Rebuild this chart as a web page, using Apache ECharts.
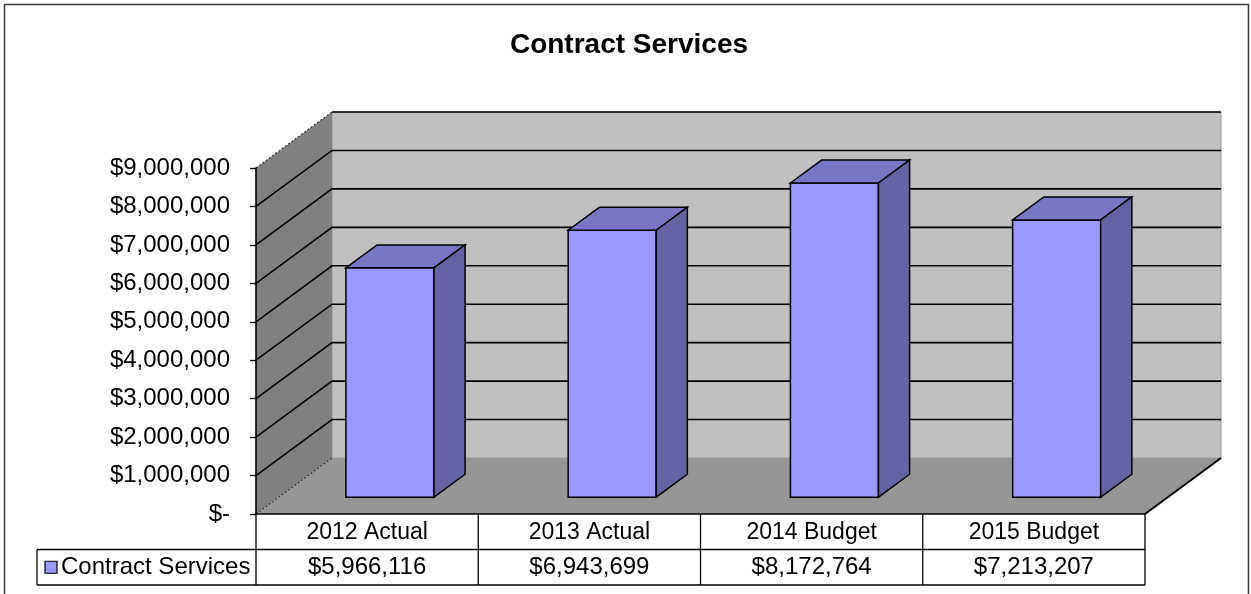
<!DOCTYPE html>
<html>
<head>
<meta charset="utf-8">
<title>Contract Services</title>
<script src="https://cdn.jsdelivr.net/npm/echarts@6/dist/echarts.min.js"></script>
<style>
  html, body { margin: 0; padding: 0; background: #ffffff; }
  #chart { width: 1251px; height: 594px; }
</style>
</head>
<body>
<div id="chart"></div>
<script>
// ---- data ----
const categories = ['2012 Actual', '2013 Actual', '2014 Budget', '2015 Budget'];
const seriesName = 'Contract Services';
const contractServices = [5966116, 6943699, 8172764, 7213207];
const yTicks = [0, 1000000, 2000000, 3000000, 4000000, 5000000, 6000000, 7000000, 8000000, 9000000];

// ---- look ----
const FONT = '"Liberation Sans", Arial, Helvetica, sans-serif';
const DEPTH = [76, -56];      // screen offset from the front plane to the back wall
const BAR_Z = [0.30, 0.71];   // depth span of the columns (0 = front, 1 = back wall)
const BAR_WIDTH = 0.396;      // column width as a share of the category band
const ROW_H = 35.5;           // data table row height
const LEGEND_CELL_W = 219;    // width of the series-name cell of the table

function money(v) {
  return v === 0 ? '$-' : '$' + v.toLocaleString('en-US');
}
function shift(p, z) {
  return [p[0] + DEPTH[0] * z, p[1] + DEPTH[1] * z];
}
function seg(a, b, style) {
  return { type: 'line', shape: { x1: a[0], y1: a[1], x2: b[0], y2: b[1] }, style: style };
}

// Back wall, side wall, floor and the gridlines that run across them.
function renderWalls(params, api) {
  const cs = params.coordSys;
  const x0 = cs.x, x1 = cs.x + cs.width;
  const yLo = api.coord([0, yTicks[0]])[1];
  const yHi = api.coord([0, yTicks[yTicks.length - 1]])[1];
  const fl = [x0, yLo], fr = [x1, yLo], ftl = [x0, yHi], ftr = [x1, yHi];
  const bl = shift(fl, 1), br = shift(fr, 1), btl = shift(ftl, 1), btr = shift(ftr, 1);
  const children = [
    { type: 'polygon', shape: { points: [btl, btr, br, bl] }, style: { fill: '#c0c0c0', stroke: '#9a9a9a', lineWidth: 1 } },
    { type: 'polygon', shape: { points: [ftl, btl, bl, fl] }, style: { fill: '#808080' } },
    { type: 'polygon', shape: { points: [fl, bl, br, fr] }, style: { fill: '#969696' } }
  ];
  yTicks.slice(1, -1).forEach(function (v) {
    const y = api.coord([0, v])[1];
    const a = [x0, y], b = shift(a, 1), c = shift([x1, y], 1);
    children.push({ type: 'polyline', shape: { points: [a, b, c] }, style: { stroke: '#000', lineWidth: 1.6, fill: 'none' } });
  });
  children.push(seg(btl, btr, { stroke: '#000', lineWidth: 1.6 }));
  children.push(seg(ftl, btl, { stroke: '#333', lineWidth: 1.2, lineDash: [2, 2] }));
  children.push(seg(fl, bl, { stroke: '#333', lineWidth: 1.2, lineDash: [2, 2] }));
  children.push(seg(fr, br, { stroke: '#000', lineWidth: 2 }));
  return { type: 'group', children: children };
}

// One shaded 3D column: front, top and right faces.
function renderColumn(params, api) {
  const i = api.value(0), v = api.value(1);
  const base = api.coord([i, 0]);
  const top = api.coord([i, v]);
  const w = api.size([1, 0])[0] * BAR_WIDTH;
  const xl = base[0] - w / 2, xr = base[0] + w / 2;
  const z0 = BAR_Z[0], z1 = BAR_Z[1];
  const fbl = shift([xl, base[1]], z0), fbr = shift([xr, base[1]], z0);
  const ftl = shift([xl, top[1]], z0), ftr = shift([xr, top[1]], z0);
  const bbr = shift([xr, base[1]], z1), btl = shift([xl, top[1]], z1), btr = shift([xr, top[1]], z1);
  const edge = { stroke: '#000', lineWidth: 1.5, lineJoin: 'miter' };
  return {
    type: 'group',
    children: [
      { type: 'polygon', shape: { points: [ftl, ftr, fbr, fbl] }, style: Object.assign({ fill: '#9999ff' }, edge) },
      { type: 'polygon', shape: { points: [ftl, btl, btr, ftr] }, style: Object.assign({ fill: '#7777c6' }, edge) },
      { type: 'polygon', shape: { points: [ftr, btr, bbr, fbr] }, style: Object.assign({ fill: '#6464a4' }, edge) }
    ]
  };
}

// Data table under the plot: category header row and value row.
function renderTableColumn(params, api) {
  const i = api.value(0), v = api.value(1);
  const c = api.coord([i, 0]);
  const band = api.size([1, 0])[0];
  const xl = c[0] - band / 2, xr = c[0] + band / 2;
  const y0 = c[1], y1 = y0 + ROW_H, y2 = y0 + 2 * ROW_H;
  const line = { stroke: '#000', lineWidth: 1.3 };
  const children = [
    seg([xr, y0], [xr, y2], line),
    seg([xl, y1], [xr, y1], line),
    seg([xl, y2], [xr, y2], line),
    { type: 'text', style: { text: categories[i], x: c[0], y: (y0 + y1) / 2 + 1, align: 'center', verticalAlign: 'middle',
        fontFamily: FONT, fontSize: 23, fill: '#000' } },
    { type: 'text', style: { text: money(v), x: c[0], y: (y1 + y2) / 2 + 0.5, align: 'center', verticalAlign: 'middle',
        fontFamily: FONT, fontSize: 24, fill: '#000' } }
  ];
  if (i === 0) {
    const lx = xl - LEGEND_CELL_W;
    children.push(seg([xl, y0], [xl, y2], line));
    children.push(seg([lx, y1], [xl, y1], line));
    children.push(seg([lx, y2], [xl, y2], line));
    children.push(seg([lx, y1], [lx, y2], line));
    children.push({ type: 'rect', shape: { x: lx + 8, y: (y1 + y2) / 2 - 6, width: 12, height: 12 },
      style: { fill: '#9999ff', stroke: '#000', lineWidth: 1.2 } });
    children.push({ type: 'text', style: { text: seriesName, x: lx + 24, y: (y1 + y2) / 2 + 0.5, align: 'left', verticalAlign: 'middle',
        fontFamily: FONT, fontSize: 24, fill: '#000' } });
  }
  return { type: 'group', children: children };
}

const chart = echarts.init(document.getElementById('chart'), null, { renderer: 'canvas' });

chart.setOption({
  animation: false,
  backgroundColor: '#ffffff',
  title: {
    text: seriesName,
    left: 629,
    textAlign: 'center',
    top: 31,
    padding: 0,
    textStyle: { fontFamily: FONT, fontSize: 28, fontWeight: 'bold', color: '#000' }
  },
  graphic: [{
    type: 'rect',
    shape: { x: 4.5, y: 4.5, width: 1244, height: 620 },
    style: { fill: 'none', stroke: '#3a3a3a', lineWidth: 1.5 },
    silent: true
  }],
  grid: { left: 256, right: 106, top: 168, bottom: 80, containLabel: false },
  xAxis: {
    type: 'category',
    data: categories,
    z: 10,
    axisLine: { show: true, lineStyle: { color: '#000', width: 1.6 } },
    axisTick: { show: false },
    axisLabel: { show: false },
    splitLine: { show: false }
  },
  yAxis: {
    type: 'value',
    min: 0,
    max: 9000000,
    interval: 1000000,
    z: 10,
    axisLine: { show: true, lineStyle: { color: '#000', width: 1.6 } },
    axisTick: { show: true, inside: false, length: 6, lineStyle: { color: '#000', width: 1.3 } },
    axisLabel: { formatter: money, margin: 26, fontFamily: FONT, fontSize: 24, color: '#000' },
    splitLine: { show: false }
  },
  series: [
    { type: 'custom', name: 'walls', z: 1, silent: true, renderItem: renderWalls, data: [[0, 0]] },
    { type: 'custom', name: seriesName, z: 3, renderItem: renderColumn,
      data: contractServices.map(function (v, i) { return [i, v]; }) },
    { type: 'custom', name: 'table', z: 4, silent: true, renderItem: renderTableColumn,
      data: contractServices.map(function (v, i) { return [i, v]; }) }
  ]
});
</script>
</body>
</html>
